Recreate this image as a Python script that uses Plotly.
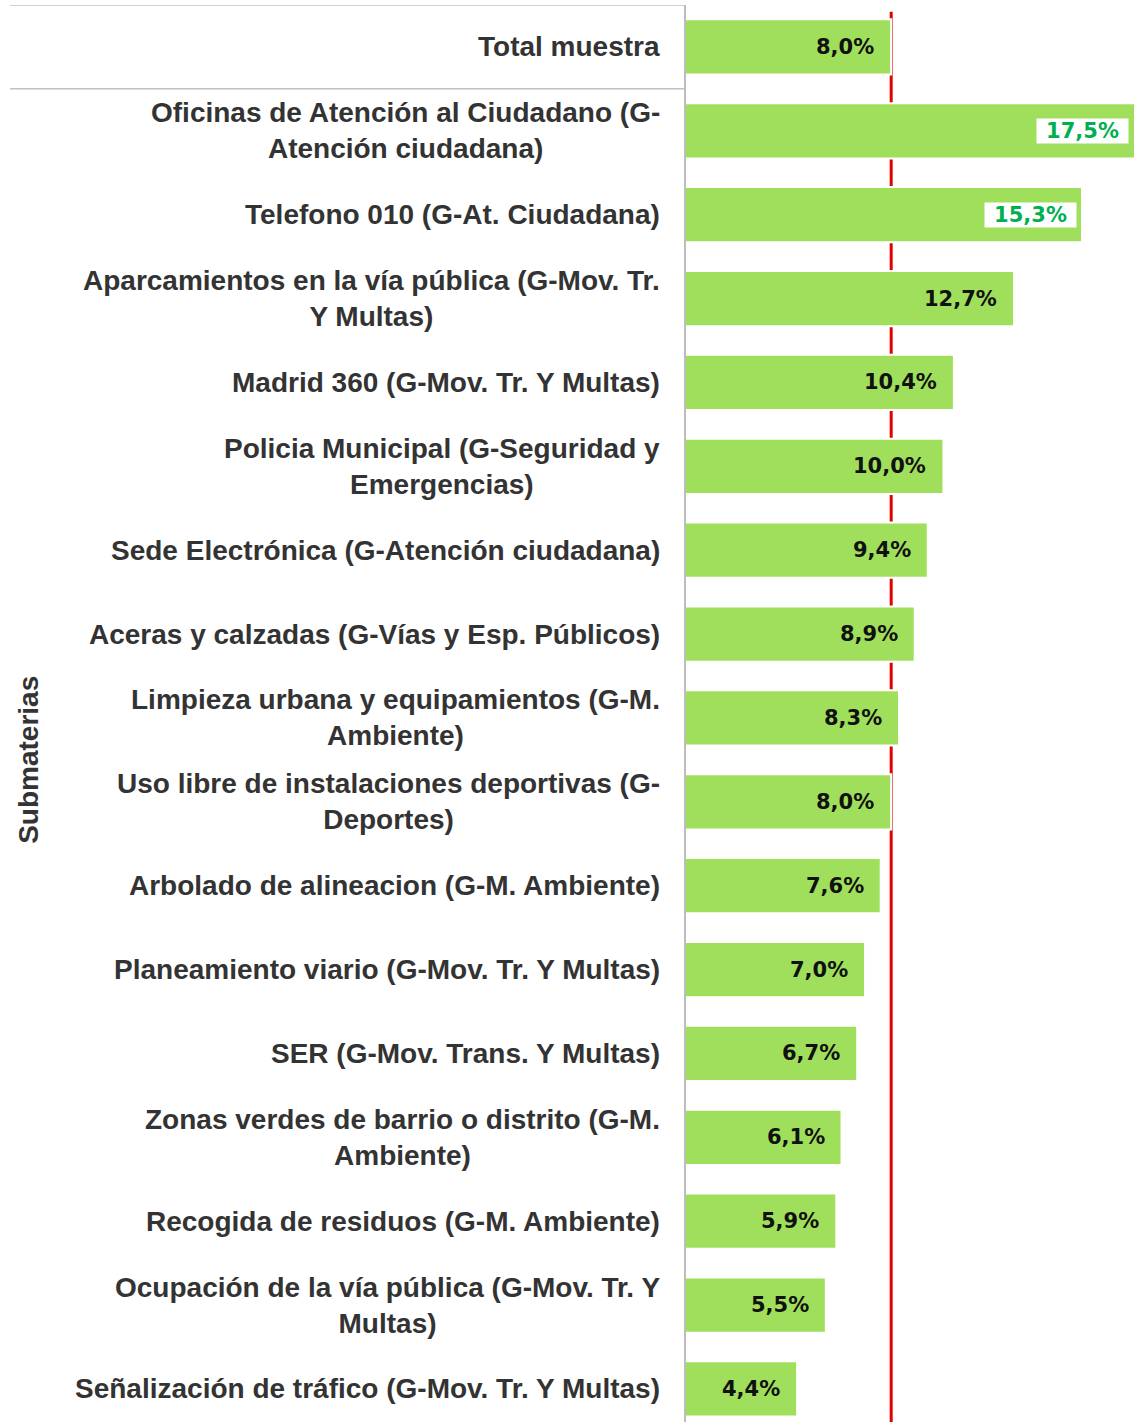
import plotly.graph_objects as go

categories = [
    "Total muestra",
    "Oficinas de Atención al Ciudadano (G-<br>Atención ciudadana)",
    "Telefono 010 (G-At. Ciudadana)",
    "Aparcamientos en la vía pública (G-Mov. Tr.<br>Y Multas)",
    "Madrid 360 (G-Mov. Tr. Y Multas)",
    "Policia Municipal (G-Seguridad y<br>Emergencias)",
    "Sede Electrónica (G-Atención ciudadana)",
    "Aceras y calzadas (G-Vías y Esp. Públicos)",
    "Limpieza urbana y equipamientos (G-M.<br>Ambiente)",
    "Uso libre de instalaciones deportivas (G-<br>Deportes)",
    "Arbolado de alineacion (G-M. Ambiente)",
    "Planeamiento viario (G-Mov. Tr. Y Multas)",
    "SER (G-Mov. Trans. Y Multas)",
    "Zonas verdes de barrio o distrito (G-M.<br>Ambiente)",
    "Recogida de residuos (G-M. Ambiente)",
    "Ocupación de la vía pública (G-Mov. Tr. Y<br>Multas)",
    "Señalización de tráfico (G-Mov. Tr. Y Multas)",
]
values = [8.0, 17.5, 15.3, 12.7, 10.4, 10.0, 9.4, 8.9, 8.3, 8.0, 7.6, 7.0, 6.7, 6.1, 5.9, 5.5, 4.4]
highlight = [False, True, True] + [False] * 14
axis_title = "Submaterias"
reference_value = values[0]

W, H = 1134, 1422
LEFT, TOP = 686, 5
SLOT = 83.875
X_MIN, X_MAX = 0.15, 17.29
n = len(categories)
ypos = list(range(n))
y_bottom = -0.5 + (H - TOP) / SLOT

BAR = "#A0DF5C"
LABEL_FONT = dict(family="Liberation Sans", size=28, color="#333333", weight="bold")
VAL_FONT = dict(family="DejaVu Sans", size=21, color="#111111", weight="bold")

fig = go.Figure()
fig.add_trace(go.Bar(
    x=values, y=ypos, orientation="h", width=0.66,
    marker=dict(color=BAR, line=dict(color="white", width=2)),
    hoverinfo="skip",
))

annotations = []
for yi, (cat, v, hl) in enumerate(zip(categories, values, highlight)):
    annotations.append(dict(
        x=0, xref="paper", y=yi, yref="y", text=cat, showarrow=False,
        xanchor="right", yanchor="middle", align="center", xshift=-24,
        font=LABEL_FONT,
    ))
    txt = f"{v:.1f}%".replace(".", ",")
    xa = min(v, X_MAX)
    if hl:
        annotations.append(dict(
            x=xa, xref="x", y=yi, yref="y", text=txt, showarrow=False,
            xanchor="right", yanchor="middle", xshift=-5,
            width=91, height=24, bgcolor="white", borderpad=0, align="center",
            font=dict(VAL_FONT, color="#00B050"),
        ))
    else:
        annotations.append(dict(
            x=xa, xref="x", y=yi, yref="y", text=txt, showarrow=False,
            xanchor="right", yanchor="middle", xshift=-15,
            font=VAL_FONT,
        ))

annotations.append(dict(
    x=-(LEFT - 29) / (W - LEFT), xref="paper", y=(1 + n - 1) / 2, yref="y",
    text=axis_title, textangle=-90, showarrow=False,
    xanchor="center", yanchor="middle", font=LABEL_FONT,
))

x_left_line = -(LEFT - 10) / (W - LEFT)
shapes = [
    dict(type="line", xref="x", yref="y", x0=reference_value, x1=reference_value,
         y0=-0.42, y1=y_bottom, line=dict(color="#E00000", width=3), layer="below"),
    dict(type="line", xref="paper", yref="y", x0=x_left_line, x1=0, y0=-0.5, y1=-0.5,
         line=dict(color="#C0C0C0", width=1.5)),
    dict(type="line", xref="paper", yref="y", x0=x_left_line, x1=0, y0=0.5, y1=0.5,
         line=dict(color="#C0C0C0", width=1.5)),
]

fig.update_layout(
    width=W, height=H,
    margin=dict(l=LEFT, r=0, t=TOP, b=0, pad=0),
    plot_bgcolor="white", paper_bgcolor="white",
    showlegend=False,
    annotations=annotations, shapes=shapes,
    xaxis=dict(range=[X_MIN, X_MAX], showgrid=False, zeroline=False, showticklabels=False,
               ticks="", fixedrange=True),
    yaxis=dict(range=[y_bottom, -0.5], showgrid=False, zeroline=False,
               showticklabels=False, ticks="", showline=True,
               linecolor="#BDBDBD", linewidth=1.5, fixedrange=True),
)

fig.write_html("out.html", config={"displayModeBar": False},
               post_script="document.body.style.margin='0';")
